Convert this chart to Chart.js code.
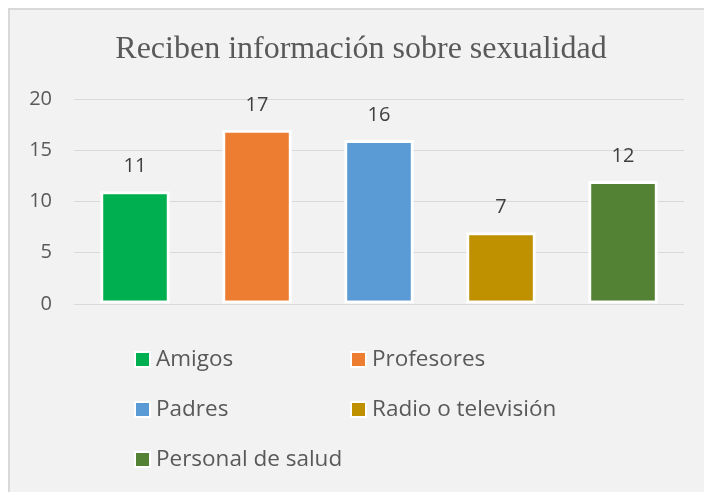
<!DOCTYPE html>
<html>
<head>
<meta charset="utf-8">
<script src="https://cdn.jsdelivr.net/npm/chart.js@4.4.1/dist/chart.umd.min.js"></script>
<style>
  html,body{margin:0;padding:0;background:#fff;}
  #frame{position:absolute;left:8px;top:8px;width:700px;height:490px;background:#f2f2f2;border-left:2px solid #d9d9d9;border-top:2px solid #d9d9d9;}
  #c{position:absolute;left:0;top:0;}
</style>
</head>
<body>
<div id="frame"></div>
<canvas id="c" width="704" height="492"></canvas>
<script>
const categories=['Amigos','Profesores','Padres','Radio o televisión','Personal de salud'];
const values=[11,17,16,7,12];
const colors=['#00b050','#ed7d31','#5b9bd5','#bf9000','#548235'];
const yTicks=[0,5,10,15,20];
const titleText='Reciben información sobre sexualidad';

const SANS='"Open Sans", "Noto Sans", sans-serif';

// title, centred a bit right of the canvas middle like the original
const chartTitle={
  id:'chartTitle',
  afterDraw(chart){
    const ctx=chart.ctx;
    ctx.save(); ctx.font='32px "Liberation Serif", "Times New Roman", serif'; ctx.fillStyle='#595959';
    ctx.textAlign='center'; ctx.textBaseline='middle';
    ctx.fillText(titleText,361,50);
    ctx.restore();
  }
};

// value labels above each bar
const valueLabels={
  id:'valueLabels',
  afterDatasetsDraw(chart){
    const ctx=chart.ctx, meta=chart.getDatasetMeta(0);
    ctx.save(); ctx.font='20px '+SANS; ctx.fillStyle='#404040'; ctx.textAlign='center'; ctx.textBaseline='alphabetic';
    meta.data.forEach((bar,i)=>{ ctx.fillText(String(values[i]), bar.x, bar.y-19); });
    ctx.restore();
  }
};

// two-column legend under the plot
const gridLegend={
  id:'gridLegend',
  afterDraw(chart){
    const ctx=chart.ctx, colX=[134,350], rowY=[359,409,459];
    ctx.save(); ctx.font='22.5px '+SANS; ctx.textBaseline='middle'; ctx.textAlign='left';
    categories.forEach((name,i)=>{
      const x=colX[i%2], y=rowY[Math.floor(i/2)];
      ctx.fillStyle='#ffffff'; ctx.fillRect(x,y-8,17,17);
      ctx.fillStyle=colors[i]; ctx.fillRect(x+2,y-6,13,13);
      ctx.fillStyle='#595959'; ctx.fillText(name,x+22,y+1);
    });
    ctx.restore();
  }
};

new Chart(document.getElementById('c'),{
  type:'bar',
  data:{labels:categories,datasets:[{data:values,backgroundColor:colors,borderColor:'#ffffff',borderWidth:3,borderSkipped:false,categoryPercentage:1,barPercentage:0.57}]},
  options:{
    responsive:false, animation:false,
    layout:{padding:{left:0,right:20,top:99,bottom:188}},
    plugins:{legend:{display:false}, tooltip:{enabled:false}, title:{display:false}},
    scales:{
      x:{display:false},
      y:{min:0,max:20,
        afterBuildTicks(s){ s.ticks=yTicks.map(v=>({value:v})); },
        afterFit(s){ s.width=74; },
        ticks:{color:'#595959',font:{family:SANS,size:20},padding:22},
        grid:{color:'#d9d9d9',lineWidth:1,drawTicks:false},
        border:{display:false}
      }
    }
  },
  plugins:[chartTitle,valueLabels,gridLegend]
});
</script>
</body>
</html>
